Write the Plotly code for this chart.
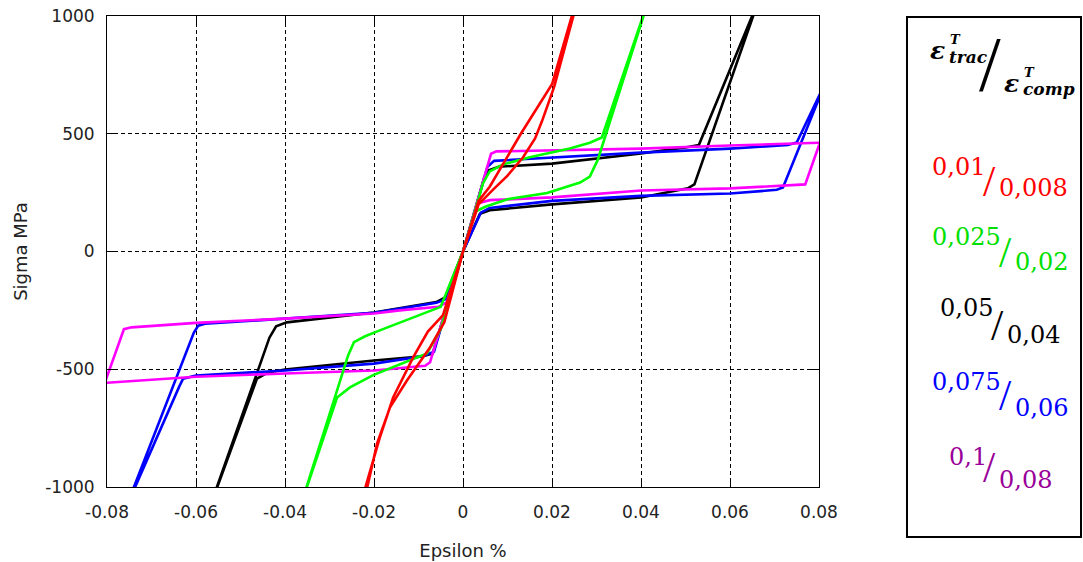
import plotly.graph_objects as go

# ---------------- data ----------------
x_ticks = [-0.08, -0.06, -0.04, -0.02, 0, 0.02, 0.04, 0.06, 0.08]
x_labels = ["-0.08", "-0.06", "-0.04", "-0.02", "0", "0.02", "0.04", "0.06", "0.08"]
y_ticks = [-1000, -500, 0, 500, 1000]
y_labels = ["-1000", "-500", "0", "500", "1000"]

red_eps = [0, 0.0035, 0.006, 0.013, 0.02, 0.0245, 0.026,
           0.0248, 0.0205, 0.0178, 0.0162, 0.0135, 0.0099, 0.0067, 0.0035, 0,
           -0.0042, -0.0075, -0.0126, -0.0164, -0.0193, -0.0215, -0.0225,
           -0.022, -0.0202, -0.0187, -0.0157, -0.0112, -0.0079, -0.0045, 0]
red_sig = [0, 215, 275, 500, 710, 1000, 1100,
           1000, 700, 556, 480, 400, 320, 262, 200, 0,
           -300, -410, -548, -662, -815, -1000, -1080,
           -1006, -887, -790, -620, -450, -340, -270, 0]

green_eps = [0, 0.0045, 0.006, 0.009, 0.015, 0.024, 0.0285, 0.0312, 0.042,
             0.0315, 0.0303, 0.0285, 0.0263, 0.0189, 0.01, 0.005, 0.0028, 0,
             -0.005, -0.0081, -0.0202, -0.0254, -0.0283, -0.0365,
             -0.0294, -0.0258, -0.0245, -0.022, -0.0187, -0.0112, -0.005, 0]
green_sig = [0, 290, 340, 370, 400, 437, 462, 484, 1085,
             459, 390, 318, 293, 248, 222, 190, 170, 0,
             -330, -433, -525, -577, -620, -1080,
             -662, -440, -385, -360, -335, -280, -235, 0]

black_eps = [0, 0.0048, 0.0058, 0.008, 0.02, 0.04, 0.05, 0.053, 0.0665,
             0.052, 0.0505, 0.04, 0.02, 0.006, 0.0038, 0,
             -0.0068, -0.009, -0.02, -0.04, -0.044, -0.0463, -0.0575,
             -0.0435, -0.042, -0.0396, -0.02, -0.006, -0.004, 0]
black_sig = [0, 315, 345, 360, 373, 416, 442, 452, 1070,
             285, 268, 229, 200, 175, 160, 0,
             -433, -445, -463, -501, -515, -540, -1118,
             -366, -318, -301, -259, -215, -195, 0]

blue_eps = [0, 0.0055, 0.007, 0.02, 0.04, 0.06, 0.073, 0.075, 0.0815,
            0.0719, 0.0705, 0.06, 0.04, 0.02, 0.006, 0.004, 0,
            -0.0065, -0.009, -0.02, -0.04, -0.06, -0.0629, -0.0638, -0.076,
            -0.0605, -0.0595, -0.058, -0.04, -0.02, -0.006, -0.0035, 0]
blue_sig = [0, 360, 385, 400, 420, 437, 452, 463, 720,
            272, 262, 246, 236, 215, 185, 165, 0,
            -425, -445, -476, -505, -527, -540, -575, -1100,
            -345, -315, -307, -285, -260, -218, -200, 0]

magenta_eps = [0, 0.0063, 0.0075, 0.02, 0.04, 0.06, 0.0802,
               0.0769, 0.06, 0.04, 0.02, 0.006, 0.0034, 0,
               -0.0074, -0.0085, -0.02, -0.04, -0.06, -0.0805,
               -0.0762, -0.0745, -0.06, -0.04, -0.02, -0.0142, -0.0055, -0.0036, 0]
magenta_sig = [0, 415, 425, 429, 437, 450, 462,
               285, 268, 259, 230, 218, 205, 0,
               -470, -485, -505, -518, -532, -558,
               -330, -322, -303, -285, -263, -250, -235, -215, 0]

legend_title_parts = ["<b><i>ε</i></b>", "<b><i>T</i></b>", "<b><i>trac</i></b>", "/",
                      "<b><i>ε</i></b>", "<b><i>T</i></b>", "<b><i>comp</i></b>"]
legend_num = ["0,01", "0,025", "0,05", "0,075", "0,1"]
legend_den = ["0,008", "0,02", "0,04", "0,06", "0,08"]

# ---------------- styles / layout ----------------
W, H = 1083, 562
L, R, T, B = 107, 819, 16, 487


def pxx(x):
    return (x - L) / (R - L)


def pyy(y):
    return (B - y) / (B - T)


series = [
    (black_eps, black_sig, "#000000", "0,05/0,04"),
    (blue_eps, blue_sig, "#0000ff", "0,075/0,06"),
    (magenta_eps, magenta_sig, "#ff00ff", "0,1/0,08"),
    (green_eps, green_sig, "#00ff00", "0,025/0,02"),
    (red_eps, red_sig, "#ff0000", "0,01/0,008"),
]

fig = go.Figure()
for ex, sy, col, nm in series:
    fig.add_trace(go.Scatter(x=ex, y=sy, mode="lines", name=nm, showlegend=False,
                             line=dict(color=col, width=2.6)))

tickfont = dict(family="DejaVu Sans", size=17, color="#222222")
axis_common = dict(showgrid=True, gridcolor="black", gridwidth=1, griddash="4px,3px",
                   zeroline=False, showline=True, linecolor="black", linewidth=1,
                   mirror="allticks", ticks="inside", ticklen=8, tickcolor="black",
                   tickfont=tickfont)

fig.update_layout(
    width=W, height=H,
    margin=dict(l=L, r=W - R, t=T, b=H - B, autoexpand=False),
    paper_bgcolor="white", plot_bgcolor="white",
    xaxis=dict(range=[-0.08, 0.08], tickvals=x_ticks, ticktext=x_labels,
               ticklabelstandoff=10,
               title=dict(text="Epsilon %", font=dict(family="DejaVu Sans", size=18, color="#222222"),
                          standoff=22),
               **axis_common),
    yaxis=dict(range=[-1000, 1000], tickvals=y_ticks, ticktext=y_labels,
               ticklabelstandoff=8,
               title=dict(text="Sigma MPa", font=dict(family="DejaVu Sans", size=18, color="#222222"),
                          standoff=12),
               **axis_common),
)

# legend box
fig.add_shape(type="rect", xref="paper", yref="paper",
              x0=pxx(907), x1=pxx(1081), y0=pyy(537), y1=pyy(17),
              line=dict(color="black", width=2), fillcolor="rgba(0,0,0,0)")

serif = "DejaVu Serif"
slash_font = "Liberation Serif"
title_pos = [  # (x, y, size, anchor, family)
    (947, 51, 25, "right", serif),
    (948, 40, 13, "left", serif),
    (947, 57, 17, "left", serif),
    (990, 64, 78, "center", slash_font),
    (1021, 84, 25, "right", serif),
    (1022, 73, 13, "left", serif),
    (1021, 89, 17, "left", serif),
]
for txt, (x, y, s, anc, fam) in zip(legend_title_parts, title_pos):
    fig.add_annotation(x=pxx(x), y=pyy(y), xref="paper", yref="paper", text=txt,
                       showarrow=False, xanchor=anc, yanchor="middle",
                       font=dict(family=fam, size=s, color="black"))

row_colors = ["#ff0000", "#00e000", "#000000", "#0000ff", "#990099"]
row_pos = [  # num_left, num_cy, slash_cx, slash_cy, den_left, den_cy
    (930, 167, 989.5, 181, 997, 188),
    (930, 237, 1005.5, 252, 1013, 262),
    (938, 308, 997.5, 325, 1005, 335),
    (930, 382, 1005.5, 395, 1013, 408),
    (947, 457, 989.5, 467, 997, 480),
]
for num, den, col, (nl, ny, sx, sy, dl, dy) in zip(legend_num, legend_den, row_colors, row_pos):
    f = dict(family=serif, size=24, color=col)
    fig.add_annotation(x=pxx(nl), y=pyy(ny), xref="paper", yref="paper", text=num,
                       showarrow=False, xanchor="left", yanchor="middle", font=f)
    fig.add_annotation(x=pxx(sx), y=pyy(sy), xref="paper", yref="paper", text="/",
                       showarrow=False, xanchor="center", yanchor="middle",
                       font=dict(family=slash_font, size=44, color=col))
    fig.add_annotation(x=pxx(dl), y=pyy(dy), xref="paper", yref="paper", text=den,
                       showarrow=False, xanchor="left", yanchor="middle", font=f)

fig.write_html("out.html", config={"displayModeBar": False},
               post_script="document.body.style.margin='0px';")
